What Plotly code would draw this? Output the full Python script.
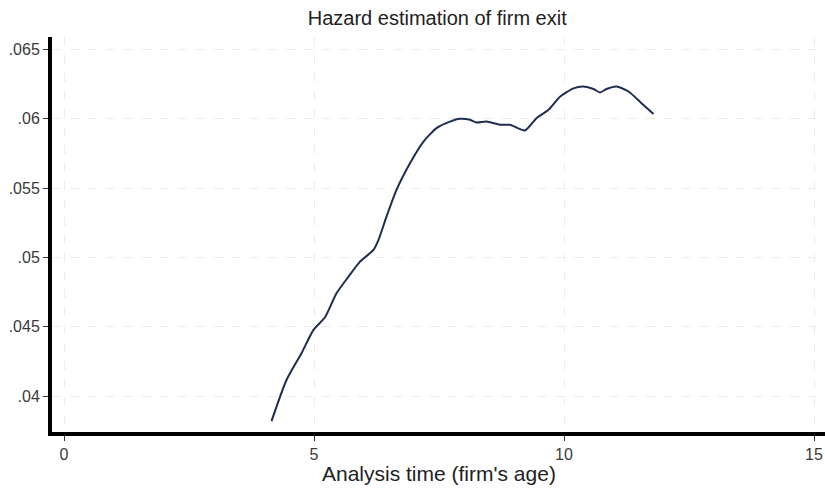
import plotly.graph_objects as go

# Smoothed hazard estimate of firm exit by firm age
age = [4.15, 4.45, 4.75, 4.99, 5.22, 5.45, 5.69, 5.92, 6.19, 6.29, 6.45, 6.65,
       6.92, 7.19, 7.45, 7.72, 7.92, 8.12, 8.25, 8.45, 8.72, 8.92, 9.22, 9.45,
       9.69, 9.92, 10.19, 10.39, 10.59, 10.72, 10.85, 11.05, 11.29, 11.55, 11.79]
hazard = [0.0382, 0.04117, 0.0431, 0.04478, 0.04569, 0.04742, 0.04862, 0.0497,
          0.05055, 0.05127, 0.05295, 0.05488, 0.0568, 0.05836, 0.05933, 0.0598,
          0.06, 0.05993, 0.05973, 0.0598, 0.05957, 0.05957, 0.05916, 0.06005,
          0.06065, 0.0616, 0.0622, 0.06233, 0.06215, 0.0619, 0.06215, 0.06233,
          0.06197, 0.06113, 0.06034]

x_ticks = [0, 5, 10, 15]
y_ticks = [0.04, 0.045, 0.05, 0.055, 0.06, 0.065]
y_tick_labels = [".04", ".045", ".05", ".055", ".06", ".065"]

fig = go.Figure()
fig.add_trace(go.Scatter(
    x=age, y=hazard, mode="lines",
    line=dict(color="#1f2d4f", width=2, shape="spline", smoothing=0.6),
    showlegend=False,
))

font_family = "Liberation Sans, Arial, sans-serif"
fig.update_layout(
    width=825, height=492,
    margin=dict(l=52, r=0, t=37, b=60),
    paper_bgcolor="white", plot_bgcolor="white",
    title=dict(text="Hazard estimation of firm exit", x=0.53, xanchor="center",
               y=0.963, yanchor="middle",
               font=dict(family=font_family, size=20, color="#222222")),
    xaxis=dict(
        range=[-0.24, 15.22], tickvals=x_ticks,
        ticks="outside", ticklen=5, tickcolor="#333333", tickwidth=1,
        showline=True, linecolor="black", linewidth=4,
        showgrid=True, gridcolor="#ececec", griddash="dash", gridwidth=1,
        zeroline=False,
        tickfont=dict(family=font_family, size=16, color="#3a3a3a"),
    ),
    yaxis=dict(
        range=[0.03742, 0.0659], tickvals=y_ticks, ticktext=y_tick_labels,
        ticks="outside", ticklen=5, tickcolor="#333333", tickwidth=1,
        showline=True, linecolor="black", linewidth=4,
        showgrid=True, gridcolor="#ececec", griddash="dash", gridwidth=1,
        zeroline=False,
        tickfont=dict(family=font_family, size=16, color="#3a3a3a"),
    ),
    annotations=[dict(
        text="Analysis time (firm's age)", xref="x", x=7.5,
        yref="paper", y=-0.104, yanchor="middle", showarrow=False,
        font=dict(family=font_family, size=21, color="#222222"),
    )],
)

fig.write_html("out.html")
